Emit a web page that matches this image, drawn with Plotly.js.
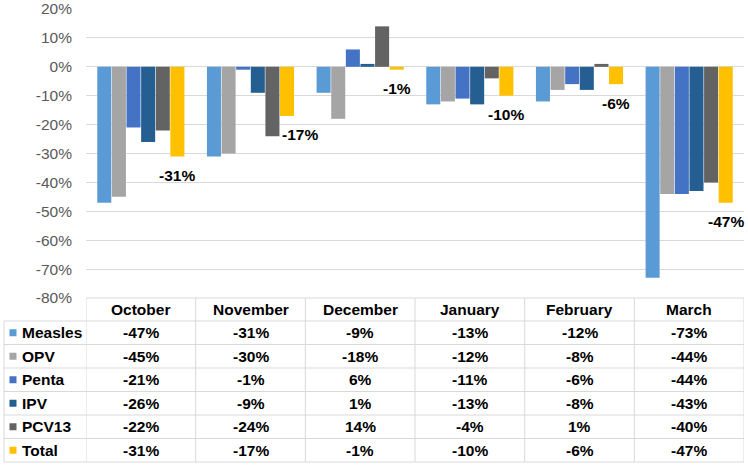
<!DOCTYPE html>
<html>
<head>
<meta charset="utf-8">
<script src="https://cdn.plot.ly/plotly-3.0.1.min.js"></script>
<style>
  html, body { margin: 0; padding: 0; background: #ffffff; }
  #chart { width: 748px; height: 466px; }
</style>
</head>
<body>
<div id="chart"></div>
<script>
// ---- data (percent change) ----
const months = ['October', 'November', 'December', 'January', 'February', 'March'];
const seriesNames = ['Measles', 'OPV', 'Penta', 'IPV', 'PCV13', 'Total'];
const measles = [-47, -31, -9, -13, -12, -73];
const opv     = [-45, -30, -18, -12, -8, -44];
const penta   = [-21, -1, 6, -11, -6, -44];
const ipv     = [-26, -9, 1, -13, -8, -43];
const pcv13   = [-22, -24, 14, -4, 1, -40];
const total   = [-31, -17, -1, -10, -6, -47];
const yTicks  = [-80, -70, -60, -50, -40, -30, -20, -10, 0, 10, 20];
const yTickLabels = ['-80%', '-70%', '-60%', '-50%', '-40%', '-30%', '-20%', '-10%', '0%', '10%', '20%'];

// ---- styling ----
const seriesValues = [measles, opv, penta, ipv, pcv13, total];
const colors = ['#5B9BD5', '#A5A5A5', '#4472C4', '#255E91', '#636363', '#FFC000'];
const FONT = 'Liberation Sans, Arial, sans-serif';
const GRID = '#d9d9d9';
const TFS = 15.5;

const W = 748, H = 466;
const M = { l: 4, r: 4, t: 9, b: 4 };
const PW = W - M.l - M.r, PH = H - M.t - M.b;
const px = x => (x - M.l) / PW;             // pixel x -> paper x
const py = y => (H - M.b - y) / PH;         // pixel y -> paper y

const plotLeft = 86, tableTop = 298, headerBottom = 321, rowH = 23.5;
const BARGAP = 0.2, GROUPGAP = 0.04;

const xIdx = months.map((m, i) => i);

const traces = seriesNames.map((name, s) => ({
  type: 'bar',
  name: name,
  x: xIdx,
  y: seriesValues[s],
  marker: { color: colors[s], line: { width: 0 } },
  hoverinfo: 'skip'
}));

const shapes = [];
const annotations = [];

// table horizontal lines
shapes.push({ type: 'line', xref: 'paper', yref: 'paper', x0: px(plotLeft), x1: 1, y0: py(tableTop), y1: py(tableTop), line: { color: GRID, width: 1 } });
for (let k = 0; k <= seriesNames.length; k++) {
  const y = py(headerBottom + k * rowH);
  shapes.push({ type: 'line', xref: 'paper', yref: 'paper', x0: 0, x1: 1, y0: y, y1: y, line: { color: GRID, width: 1 } });
}
// table vertical lines
shapes.push({ type: 'line', xref: 'paper', yref: 'paper', x0: 0, x1: 0, y0: py(headerBottom), y1: 0, line: { color: GRID, width: 1 } });
for (let i = 0; i <= months.length; i++) {
  shapes.push({ type: 'line', xref: 'x', yref: 'paper', x0: i - 0.5, x1: i - 0.5, y0: py(tableTop), y1: 0, line: { color: GRID, width: 1 } });
}

// header
months.forEach((m, i) => {
  annotations.push({ xref: 'x', yref: 'paper', x: i, y: py((tableTop + headerBottom) / 2), text: '<b>' + m + '</b>',
    showarrow: false, xanchor: 'center', yanchor: 'middle', font: { family: FONT, size: TFS, color: '#000' } });
});

// rows
seriesNames.forEach((name, s) => {
  const yc = headerBottom + (s + 0.5) * rowH;
  shapes.push({ type: 'rect', xref: 'paper', yref: 'paper', x0: px(9.5), x1: px(16.5), y0: py(yc - 3.5), y1: py(yc + 3.5),
    fillcolor: colors[s], line: { width: 0 } });
  annotations.push({ xref: 'paper', yref: 'paper', x: px(20), y: py(yc), text: '<b>' + name + '</b>',
    showarrow: false, xanchor: 'left', yanchor: 'middle', font: { family: FONT, size: TFS, color: '#000' } });
  seriesValues[s].forEach((v, i) => {
    annotations.push({ xref: 'x', yref: 'paper', x: i, y: py(yc), text: '<b>' + v + '%</b>',
      showarrow: false, xanchor: 'center', yanchor: 'middle', font: { family: FONT, size: TFS, color: '#000' } });
  });
});

// data labels for Total series (below bar end)
const nS = seriesNames.length;
const slot = (1 - BARGAP) / nS;
const totalOffset = -(1 - BARGAP) / 2 + (nS - 0.5) * slot;
total.forEach((v, i) => {
  const blocked = pcv13[i] < v;   // neighbouring bar would overlap the label
  annotations.push({ xref: 'x', yref: 'y', x: i + totalOffset, y: v, yshift: -19, xshift: blocked ? 13 : 0,
    text: '<b>' + v + '%</b>', showarrow: false, xanchor: 'center', yanchor: 'middle',
    font: { family: FONT, size: TFS, color: '#000' } });
});

const layout = {
  width: W, height: H,
  margin: M,
  paper_bgcolor: '#ffffff', plot_bgcolor: '#ffffff',
  barmode: 'group', bargap: BARGAP, bargroupgap: GROUPGAP,
  showlegend: false,
  font: { family: FONT },
  xaxis: {
    type: 'linear', domain: [px(plotLeft), 1], range: [-0.5, months.length - 0.5],
    showgrid: false, zeroline: false, showticklabels: false, showline: false, ticks: ''
  },
  yaxis: {
    domain: [py(tableTop), 1], range: [-80, 20], tickmode: 'array', tickvals: yTicks, ticktext: yTickLabels,
    showgrid: true, gridcolor: GRID, gridwidth: 1,
    zeroline: true, zerolinecolor: GRID, zerolinewidth: 1,
    showline: false, ticks: '', ticklabelstandoff: 13,
    tickfont: { family: FONT, size: 15.5, color: '#595959' }
  },
  shapes: shapes,
  annotations: annotations
};

Plotly.newPlot('chart', traces, layout, { displayModeBar: false, staticPlot: true });
</script>
</body>
</html>
